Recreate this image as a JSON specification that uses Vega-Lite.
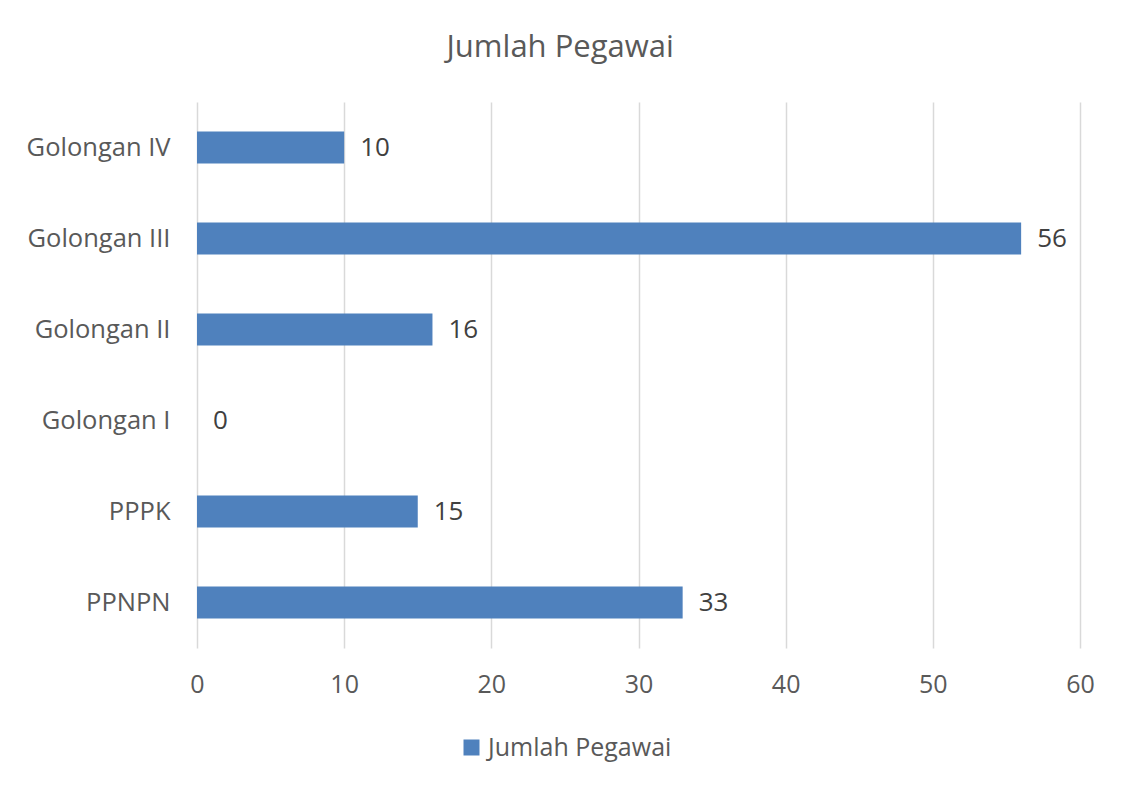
{
  "$schema": "https://vega.github.io/schema/vega-lite/v6.json",
  "width": 883,
  "height": 546,
  "autosize": {"type": "none"},
  "padding": {"left": 197, "top": 102, "right": 44, "bottom": 137},
  "background": "white",
  "title": {
    "text": "Jumlah Pegawai",
    "fontSize": 31,
    "font": "Open Sans",
    "fontWeight": "normal",
    "color": "#595959",
    "anchor": "middle",
    "frame": "bounds",
    "offset": 38
  },
  "data": {
    "values": [
      {"kategori": "Golongan IV", "jumlah": 10, "seri": "Jumlah Pegawai"},
      {"kategori": "Golongan III", "jumlah": 56, "seri": "Jumlah Pegawai"},
      {"kategori": "Golongan II", "jumlah": 16, "seri": "Jumlah Pegawai"},
      {"kategori": "Golongan I", "jumlah": 0, "seri": "Jumlah Pegawai"},
      {"kategori": "PPPK", "jumlah": 15, "seri": "Jumlah Pegawai"},
      {"kategori": "PPNPN", "jumlah": 33, "seri": "Jumlah Pegawai"}
    ]
  },
  "encoding": {
    "y": {
      "field": "kategori",
      "type": "nominal",
      "sort": null,
      "title": null,
      "scale": {"paddingInner": 0.65, "paddingOuter": 0.325},
      "axis": {
        "ticks": false,
        "domain": false,
        "labelPadding": 27,
        "labelFontSize": 25.5,
        "labelFont": "Open Sans",
        "labelColor": "#595959",
        "labelLimit": 300,
        "grid": false
      }
    },
    "x": {
      "field": "jumlah",
      "type": "quantitative",
      "title": null,
      "scale": {"domain": [0, 60], "nice": false},
      "axis": {
        "values": [0, 10, 20, 30, 40, 50, 60],
        "ticks": false,
        "domain": false,
        "grid": true,
        "gridColor": "#d9d9d9",
        "gridWidth": 1.5,
        "labelFlush": false,
        "labelPadding": 24,
        "labelFontSize": 25,
        "labelFont": "Open Sans",
        "labelColor": "#595959"
      }
    }
  },
  "layer": [
    {
      "mark": {"type": "bar", "color": "#4F81BD"},
      "encoding": {
        "color": {
          "field": "seri",
          "type": "nominal",
          "scale": {"range": ["#4F81BD"]},
          "legend": {
            "title": null,
            "orient": "none",
            "legendX": 262,
            "legendY": 633,
            "symbolType": "square",
            "symbolSize": 256,
            "symbolStrokeWidth": 0,
            "labelFontSize": 25,
            "labelFont": "Open Sans",
            "labelColor": "#595959",
            "labelLimit": 400,
            "labelOffset": 4
          }
        }
      }
    },
    {
      "mark": {
        "type": "text",
        "align": "left",
        "baseline": "middle",
        "dx": 16,
        "fontSize": 26,
        "font": "Open Sans",
        "color": "#404040"
      },
      "encoding": {"text": {"field": "jumlah", "type": "quantitative"}}
    }
  ],
  "config": {"view": {"stroke": null}}
}
